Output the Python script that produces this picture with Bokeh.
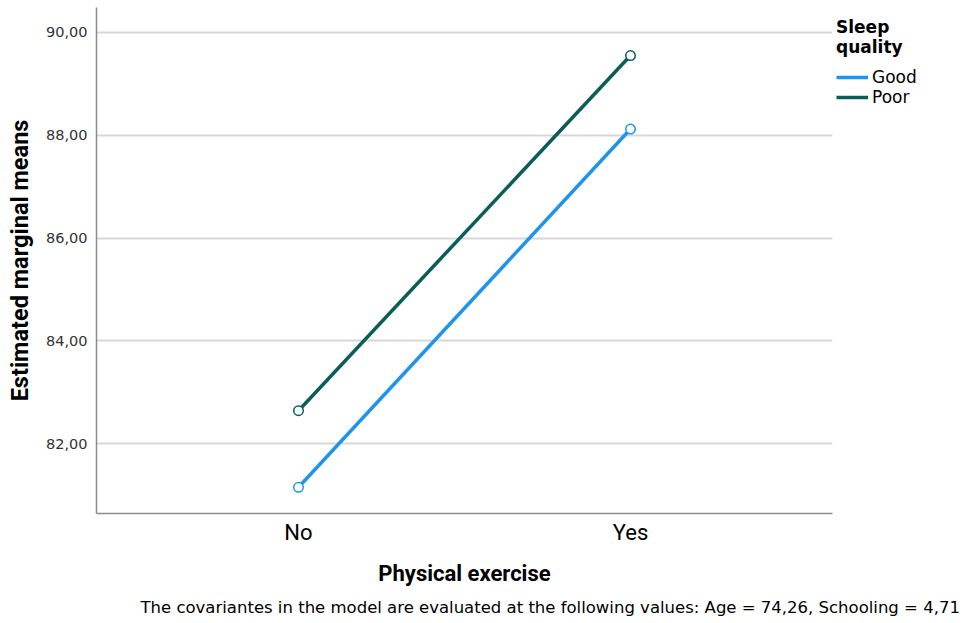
from bokeh.plotting import figure
from bokeh.models import FactorRange, Range1d, Legend, LegendItem, FixedTicker, Title
from bokeh.embed import file_html
from bokeh.resources import INLINE

# ---- data ----
exercise = ["No", "Yes"]
good = [81.15, 88.12]
poor = [82.64, 89.55]
y_ticks = [82, 84, 86, 88, 90]
y_tick_labels = ["82,00", "84,00", "86,00", "88,00", "90,00"]
footnote = "The covariantes in the model are evaluated at the following values: Age = 74,26, Schooling = 4,71"

GOOD_C = "#1e94ea"
POOR_C = "#0b5d58"
FONT = "Roboto"
TICKFONT = "DejaVu Sans"

p = figure(frame_width=736, frame_height=506, output_backend="svg", toolbar_location=None,
           x_range=FactorRange(factors=exercise, range_padding=0.1084),
           y_range=Range1d(80.64, 90.485),
           min_border_left=96, min_border_right=131, min_border_top=7, min_border_bottom=110)
p.outline_line_color = None
p.background_fill_color = "white"
p.border_fill_color = "white"

# grid
p.xgrid.grid_line_color = None
p.ygrid.grid_line_color = "#d7d7d7"
p.ygrid.grid_line_width = 2
p.ygrid.ticker = FixedTicker(ticks=y_ticks)

# y axis
p.yaxis.ticker = FixedTicker(ticks=y_ticks)
p.yaxis.major_label_overrides = {t: l for t, l in zip(y_ticks, y_tick_labels)}
p.yaxis.axis_label = "Estimated marginal means"
p.yaxis.axis_label_text_font = FONT
p.yaxis.axis_label_text_font_style = "bold"
p.yaxis.axis_label_text_font_size = "23.5px"
p.yaxis.axis_label_text_color = "black"
p.yaxis.axis_label_standoff = 9
p.yaxis.major_label_text_font = TICKFONT
p.yaxis.major_label_text_font_size = "14.5px"
p.yaxis.major_label_text_color = "#333333"
p.yaxis.major_label_standoff = 9
p.yaxis.major_tick_line_color = None
p.yaxis.minor_tick_line_color = None
p.yaxis.major_tick_out = 0
p.yaxis.axis_line_color = "#8c8c8c"
p.yaxis.axis_line_width = 1.5

# x axis
p.xaxis.axis_label = "Physical exercise"
p.xaxis.axis_label_text_font = FONT
p.xaxis.axis_label_text_font_style = "bold"
p.xaxis.axis_label_text_font_size = "22px"
p.xaxis.axis_label_text_color = "black"
p.xaxis.axis_label_standoff = 13
p.xaxis.major_label_text_font = FONT
p.xaxis.major_label_text_font_size = "22px"
p.xaxis.major_label_text_color = "black"
p.xaxis.major_label_standoff = 6
p.xaxis.major_tick_line_color = None
p.xaxis.major_tick_out = 0
p.xaxis.axis_line_color = "#8c8c8c"
p.xaxis.axis_line_width = 1.5

# series
lg = p.line(x=exercise, y=good, line_color=GOOD_C, line_width=3.5)
p.scatter(x=exercise, y=good, marker="circle", size=9.5, line_color=GOOD_C,
          fill_color="white", line_width=1.5)
lp = p.line(x=exercise, y=poor, line_color=POOR_C, line_width=3.5)
p.scatter(x=exercise, y=poor, marker="circle", size=9.5, line_color=POOR_C,
          fill_color="white", line_width=1.5)

legend = Legend(items=[LegendItem(label="Good", renderers=[lg]),
                       LegendItem(label="Poor", renderers=[lp])],
                title="Sleep\nquality", title_text_font=TICKFONT, title_text_font_style="bold",
                title_text_font_size="17px", title_text_line_height=1.15, title_standoff=10,
                title_text_color="black",
                location=(4, 406), orientation="vertical",
                margin=0, padding=5, spacing=0,
                glyph_width=32, glyph_height=20, label_height=20,
                label_standoff=4, label_text_font=TICKFONT, label_text_font_size="17px",
                label_text_color="black",
                border_line_color=None, background_fill_alpha=0)
p.add_layout(legend, "right")

p.add_layout(Title(text=footnote, align="left", offset=44, standoff=15,
                   text_font=TICKFONT, text_font_size="16.5px", text_font_style="normal",
                   text_color="black"), "below")

open("out.html", "w").write(file_html(p, INLINE))
